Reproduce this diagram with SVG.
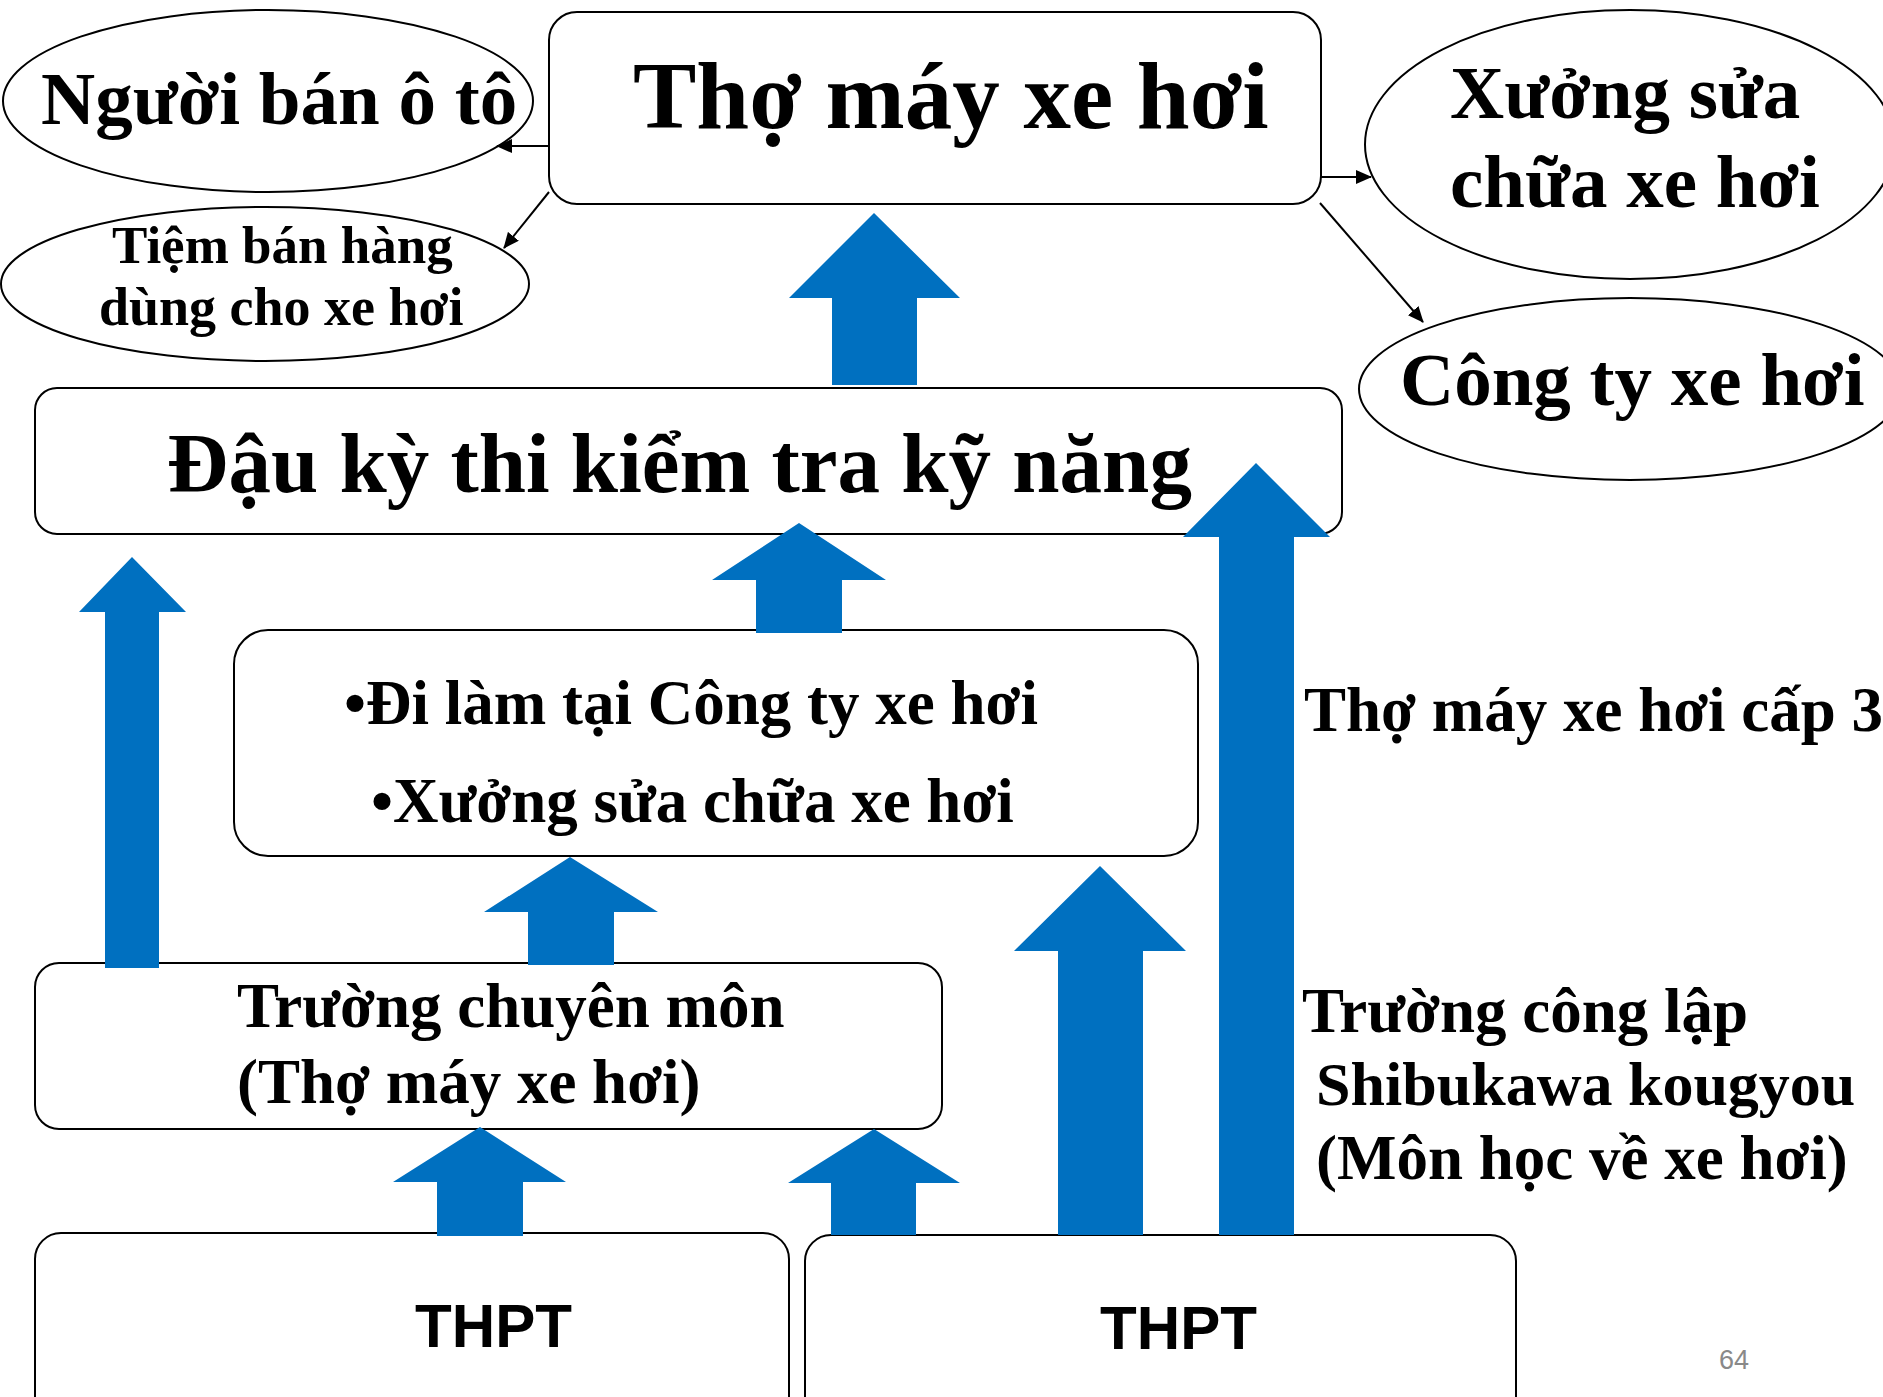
<svg xmlns="http://www.w3.org/2000/svg" width="1883" height="1397" viewBox="0 0 1883 1397">
<style>
.box{fill:#fff;stroke:#000;stroke-width:2}
.ell{fill:#fff;stroke:#000;stroke-width:2}
.t{font-family:"Liberation Serif","Times New Roman",serif;font-weight:bold;fill:#000}
.s{font-family:"Liberation Sans",Arial,sans-serif;font-weight:bold;fill:#000}
.blue{fill:#0070C0}
.ln{stroke:#000;stroke-width:2;fill:none}
</style>
<defs>
<marker id="ah" markerUnits="userSpaceOnUse" markerWidth="16" markerHeight="14" refX="15" refY="7" orient="auto">
<path d="M0,0 L16,7 L0,14 Z" fill="#000"/>
</marker>
</defs>
<rect width="1883" height="1397" fill="#fff"/>

<g id="node-tho-may">
<rect class="box" x="549" y="12" width="772" height="192" rx="28"/>
<text class="t" x="633" y="128" font-size="95">Thợ máy xe hơi</text>
</g>
<g id="node-nguoi-ban">
<ellipse class="ell" cx="268" cy="101" rx="265" ry="91"/>
<text class="t" x="41" y="124" font-size="75">Người bán ô tô</text>
</g>
<g id="node-tiem-ban">
<ellipse class="ell" cx="265" cy="284" rx="264" ry="77"/>
<text class="t" x="112" y="263" font-size="53">Tiệm bán hàng</text>
<text class="t" x="99" y="325" font-size="54">dùng cho xe hơi</text>
</g>
<g id="node-xuong">
<ellipse class="ell" cx="1630" cy="144.5" rx="265" ry="134.5"/>
<text class="t" x="1450" y="118" font-size="75">Xưởng sửa</text>
<text class="t" x="1450" y="207" font-size="75">chữa xe hơi</text>
</g>
<g id="node-cong-ty">
<ellipse class="ell" cx="1630" cy="389" rx="271" ry="91"/>
<text class="t" x="1400" y="405" font-size="75">Công ty xe hơi</text>
</g>
<g id="node-dau-ky-thi">
<rect class="box" x="35" y="388" width="1307" height="146" rx="22"/>
<text class="t" x="167" y="492" font-size="85">Đậu kỳ thi kiểm tra kỹ năng</text>
</g>
<g id="node-di-lam">
<rect class="box" x="234" y="630" width="964" height="226" rx="34"/>
<text class="t" x="344" y="724" font-size="63">•Đi làm tại Công ty xe hơi</text>
<text class="t" x="371" y="822" font-size="63">•Xưởng sửa chữa xe hơi</text>
</g>
<g id="node-truong-chuyen-mon">
<rect class="box" x="35" y="963" width="907" height="166" rx="24"/>
<text class="t" x="237" y="1027" font-size="63">Trường chuyên môn</text>
<text class="t" x="237" y="1103" font-size="63">(Thợ máy xe hơi)</text>
</g>
<g id="node-thpt-1">
<rect class="box" x="35" y="1233" width="754" height="200" rx="26"/>
<text class="s" x="415" y="1347" font-size="62" textLength="157" lengthAdjust="spacingAndGlyphs">THPT</text>
</g>
<g id="node-thpt-2">
<rect class="box" x="805" y="1235" width="711" height="200" rx="26"/>
<text class="s" x="1100" y="1349" font-size="62" textLength="157" lengthAdjust="spacingAndGlyphs">THPT</text>
</g>
<g id="label-cap3">
<text class="t" x="1304" y="731" font-size="63">Thợ máy xe hơi cấp 3</text>
</g>
<g id="label-shibukawa">
<text class="t" x="1302" y="1032" font-size="63">Trường công lập</text>
<text class="t" x="1316" y="1105" font-size="62">Shibukawa kougyou</text>
<text class="t" x="1316" y="1179" font-size="63">(Môn học về xe hơi)</text>
</g>
<g id="page-number">
<text x="1719" y="1369" font-family="'Liberation Sans',Arial,sans-serif" font-size="27" fill="#898989">64</text>
</g>

<g id="connectors">
<line class="ln" x1="548" y1="146" x2="497" y2="146" marker-end="url(#ah)"/>
<line class="ln" x1="549" y1="192" x2="504" y2="248" marker-end="url(#ah)"/>
<line class="ln" x1="1320" y1="177" x2="1371" y2="177" marker-end="url(#ah)"/>
<line class="ln" x1="1320" y1="203" x2="1423" y2="322" marker-end="url(#ah)"/>
<polygon class="blue" points="874,213 960,298 917,298 917,385 832,385 832,298 789,298"/>
<polygon class="blue" points="132,557 186,612 159,612 159,968 105,968 105,612 79,612"/>
<polygon class="blue" points="799,523 886,580 842,580 842,633 756,633 756,580 712,580"/>
<polygon class="blue" points="570,857 658,912 614,912 614,965 528,965 528,912 484,912"/>
<polygon class="blue" points="1100,866 1186,951 1143,951 1143,1235 1058,1235 1058,951 1014,951"/>
<polygon class="blue" points="1256,463 1330,537 1294,537 1294,1235 1219,1235 1219,537 1183,537"/>
<polygon class="blue" points="480,1127 566,1182 523,1182 523,1236 437,1236 437,1182 393,1182"/>
<polygon class="blue" points="874,1129 960,1183 916,1183 916,1235 831,1235 831,1183 788,1183"/>
</g>
</svg>
